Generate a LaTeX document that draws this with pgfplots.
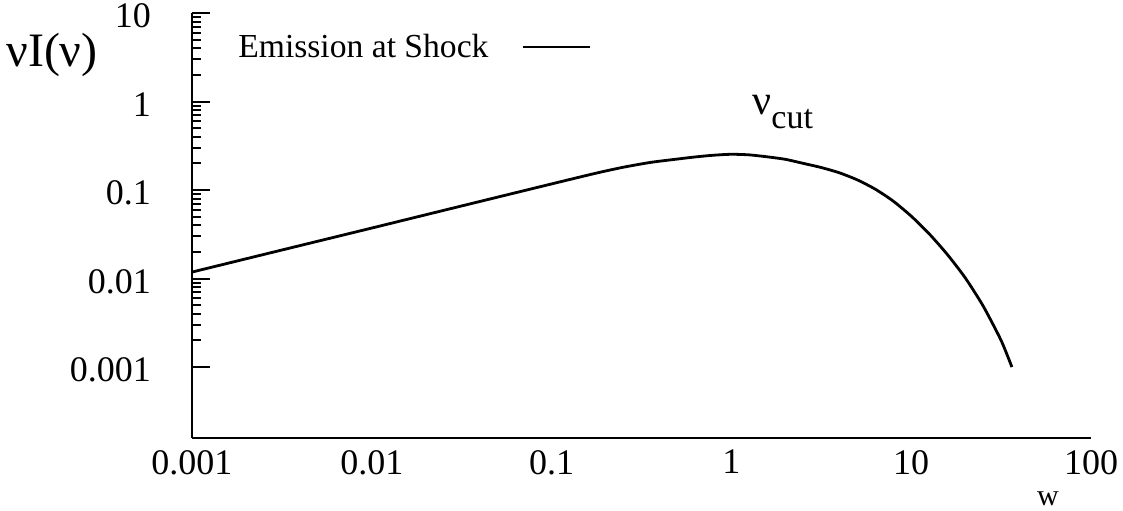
\documentclass[border=0pt]{standalone}
\usepackage{fontspec}
\setmainfont{Liberation Serif}
\usepackage{pgfplots}
\pgfplotsset{compat=1.18}

\begin{document}
\begin{tikzpicture}
  % page frame: the axis box sits at (0,0), 1px = 0.5pt
  \useasboundingbox (-96pt,-36pt) rectangle (465.5pt,219pt);
  \begin{axis}[
      scale only axis,
      width=449.5pt, height=212.5pt,
      xmode=log, ymode=log,
      xmin=0.001, xmax=100,
      ymin=1.578e-4, ymax=10,
      axis lines=left,
      axis line style={-, line width=1.4pt},
      clip=false,
      xtick={0.001,0.01,0.1,1,10,100},
      xticklabels={0.001,0.01,0.1,1,10,100},
      ytick={0.001,0.01,0.1,1,10},
      yticklabels={0.001,0.01,0.1,1,10},
      minor ytick={0.002,0.003,0.004,0.005,0.006,0.007,0.008,0.009,
                   0.02,0.03,0.04,0.05,0.06,0.07,0.08,0.09,
                   0.2,0.3,0.4,0.5,0.6,0.7,0.8,0.9,
                   2,3,4,5,6,7,8,9},
      minor xtick={},
      xtick style={draw=none},
      ytick style={line width=1pt, black},
      minor y tick style={line width=1pt, black},
      tick align=inside,
      major tick length=9pt,
      minor tick length=4.5pt,
      /pgf/number format/assume math mode=true,
      ticklabel style={font=\fontsize{18}{18}\selectfont},
      xticklabel style={yshift=-2.5pt},
      yticklabel style={xshift=-17pt, yshift=-1.5pt},
      legend style={draw=none, fill=none, at={(rel axis cs:0.04,0.92)},
                    anchor=west, font=\fontsize{16.8}{18}\selectfont},
      legend plot pos=right,
      legend cell align=left,
      legend image code/.code={%
        \path (0pt,0pt);
        \draw[#1] (14.5pt,0pt) -- (48pt,0pt);},
    ]
    \addplot[black, line width=1.4pt, smooth, tension=0.4] coordinates {
      (0.001,0.01183) (0.003162,0.0210) (0.01,0.0372) (0.03162,0.0661)
      (0.1,0.1172) (0.1778,0.1555) (0.2512,0.1811) (0.3548,0.2051)
      (0.5012,0.2239) (0.631,0.2366) (0.7943,0.2472) (1,0.2535)
      (1.259,0.2495) (1.585,0.2371) (1.995,0.2223) (2.512,0.200)
      (3.162,0.1795) (3.981,0.1567) (5.012,0.1303) (6.31,0.1023)
      (7.943,0.0750) (10,0.0507) (12.59,0.0320) (15.85,0.0188)
      (19.95,0.01023) (25.12,0.0049) (31.62,0.0020) (36.31,0.001)
    };
    \addlegendentry{Emission at Shock}

    \node at (rel axis cs:-0.1557,0.901) {\fontsize{24}{24}\selectfont νI(ν)};
    \node[anchor=base west, inner sep=0pt] at (rel axis cs:0.623,0.762)
      {\fontsize{21}{21}\selectfont ν\raisebox{-7pt}{\fontsize{17}{17}\selectfont cut}};
    \node[anchor=base, inner sep=0pt] at (rel axis cs:0.952,-0.158)
      {\fontsize{15}{15}\selectfont w};
  \end{axis}
\end{tikzpicture}
\end{document}
